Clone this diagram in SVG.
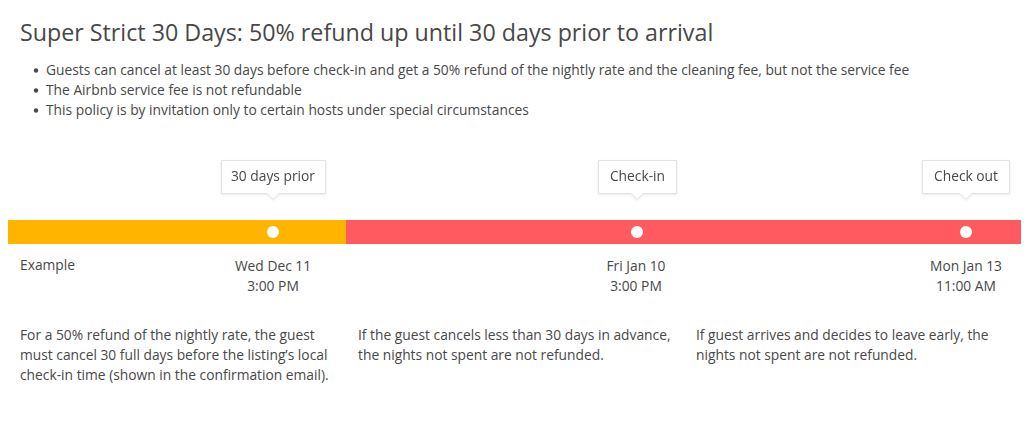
<svg xmlns="http://www.w3.org/2000/svg" width="1030" height="440" viewBox="0 0 1030 440">
<style>
text{font-family:"Open Sans","Liberation Sans",sans-serif;fill:#484848}
.t{font-size:23.25px}
.b{font-size:13.8px}
.m{font-size:13.8px;text-anchor:middle}
.tip{fill:#fff;stroke:#e2e2e2;stroke-width:1}
</style>
<defs>
<filter id="sh" x="-20%" y="-20%" width="140%" height="160%"><feDropShadow dx="0" dy="1" stdDeviation="1.2" flood-color="#000" flood-opacity="0.08"/></filter>
</defs>
<rect width="1030" height="440" fill="#fff"/>
<g id="header">
<text class="t" x="20" y="41">Super Strict 30 Days: 50% refund up until 30 days prior to arrival</text>
<circle cx="36" cy="70.5" r="2.2" fill="#484848"/>
<circle cx="36" cy="90.5" r="2.2" fill="#484848"/>
<circle cx="36" cy="110.5" r="2.2" fill="#484848"/>
<text class="b" x="46" y="75">Guests can cancel at least 30 days before check-in and get a 50% refund of the nightly rate and the cleaning fee, but not the service fee</text>
<text class="b" x="46" y="95">The Airbnb service fee is not refundable</text>
<text class="b" x="46" y="115">This policy is by invitation only to certain hosts under special circumstances</text>
</g>
<g id="timeline">
<rect x="8" y="220" width="338" height="24" fill="#FFB400"/>
<rect x="346" y="220" width="675" height="24" fill="#FF5A5F"/>
<circle cx="273" cy="232" r="6" fill="#fff"/>
<circle cx="637" cy="232" r="6" fill="#fff"/>
<circle cx="966" cy="232" r="6" fill="#fff"/>
</g>
<g id="tip-30days" filter="url(#sh)">
<path class="tip" d="M221.5 160.5 H325.5 V193.5 H279 L273 199.5 L267 193.5 H221.5 Z"/>
<text class="m" x="273" y="181">30 days prior</text>
</g>
<g id="tip-checkin" filter="url(#sh)">
<path class="tip" d="M598.5 160.5 H676.5 V193.5 H643 L637 199.5 L631 193.5 H598.5 Z"/>
<text class="m" x="637.5" y="181">Check-in</text>
</g>
<g id="tip-checkout" filter="url(#sh)">
<path class="tip" d="M922.5 160.5 H1009.5 V193.5 H972 L966 199.5 L960 193.5 H922.5 Z"/>
<text class="m" x="966" y="181">Check out</text>
</g>
<g id="labels">
<text class="b" x="20" y="270">Example</text>
<text class="m" x="273" y="271">Wed Dec 11</text>
<text class="m" x="273" y="291">3:00 PM</text>
<text class="m" x="636" y="271">Fri Jan 10</text>
<text class="m" x="636" y="291">3:00 PM</text>
<text class="m" x="966" y="271">Mon Jan 13</text>
<text class="m" x="966" y="291">11:00 AM</text>
</g>
<g id="notes">
<text class="b" x="20" y="340">For a 50% refund of the nightly rate, the guest</text>
<text class="b" x="20" y="360">must cancel 30 full days before the listing’s local</text>
<text class="b" x="20" y="380">check-in time (shown in the confirmation email).</text>
<text class="b" x="358" y="340">If the guest cancels less than 30 days in advance,</text>
<text class="b" x="358" y="360">the nights not spent are not refunded.</text>
<text class="b" x="696" y="340">If guest arrives and decides to leave early, the</text>
<text class="b" x="696" y="360">nights not spent are not refunded.</text>
</g>
</svg>
